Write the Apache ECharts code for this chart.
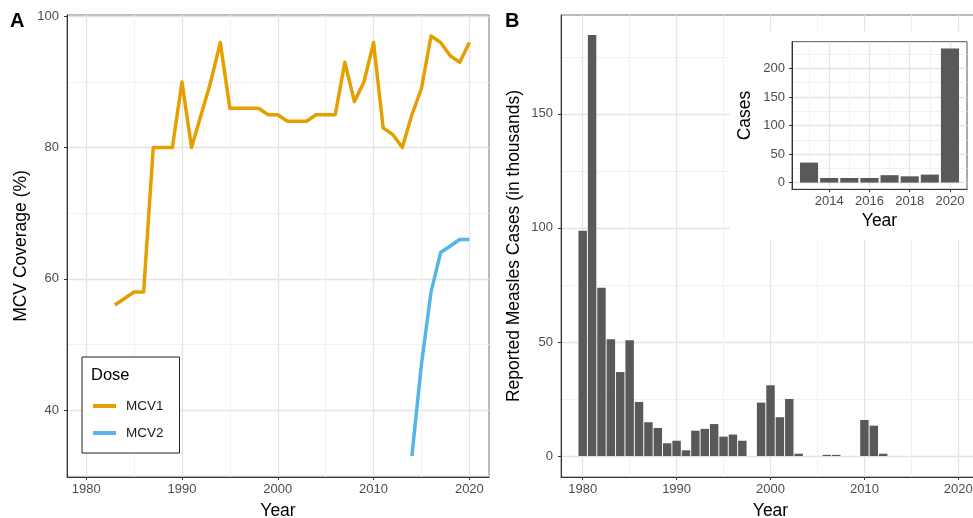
<!DOCTYPE html>
<html><head><meta charset="utf-8">
<script src="https://cdn.jsdelivr.net/npm/echarts@6/dist/echarts.min.js"></script>
<style>html,body{margin:0;padding:0;background:#fff}#c{width:973px;height:518px}</style>
</head><body><div id="c"></div>
<script>
// ---------- data ----------
const mcv1Years = [1983,1984,1985,1986,1987,1988,1989,1990,1991,1992,1993,1994,1995,1996,1997,1998,1999,2000,2001,2002,2003,2004,2005,2006,2007,2008,2009,2010,2011,2012,2013,2014,2015,2016,2017,2018,2019,2020];
const mcv1Values = [56,57,58,58,80,80,80,90,80,85,90,96,86,86,86,86,85,85,84,84,84,85,85,85,93,87,90,96,83,82,80,85,89,97,96,94,93,96];
const mcv2Years = [2014,2015,2016,2017,2018,2019,2020];
const mcv2Values = [33,47,58,64,65,66,66];

const caseYears = [1980,1981,1982,1983,1984,1985,1986,1987,1988,1989,1990,1991,1992,1993,1994,1995,1996,1997,1999,2000,2001,2002,2003,2006,2007,2010,2011,2012];
const caseThousands = [98.7,184.5,73.7,51.2,36.8,50.7,23.7,14.8,12.3,5.6,6.7,2.5,11.1,11.9,14.0,8.5,9.4,6.7,23.4,31.0,17.0,25.0,1.0,0.5,0.5,15.8,13.3,1.0];

const insetYears = [2013,2014,2015,2016,2017,2018,2019,2020];
const insetCases = [35,8,8,8,13,11,14,235];

// tick labels / grid breaks
const yearTicks = [1980,1990,2000,2010,2020];
const yearMinor = [1985,1995,2005,2015];
const covTicks = [40,60,80,100];
const covMinor = [30,50,70,90];
const caseTicks = [0,50,100,150];
const caseMinor = [25,75,125,175];
const insetXTicks = [2014,2016,2018,2020];
const insetXMinor = [2013,2015,2017,2019];
const insetYTicks = [0,50,100,150,200];
const insetYMinor = [25,75,125,175,225];

// ---------- styling ----------
const FONT = 'Liberation Sans, Arial, Helvetica, sans-serif';
const TICKC = '#4d4d4d';
const MAJOR = '#e4e4e4';
const MINORC = '#f1f1f1';
const TITLE_SIZE = 17.5;

function lbl(ticks, margin) {
  return {show: true, customValues: ticks, color: TICKC, fontSize: 13, fontFamily: FONT, margin: margin,
          formatter: function (v) { return String(v); }};
}
function valAxis(gridIndex, min, max, ticks, extra) {
  return Object.assign({
    type: 'value', gridIndex: gridIndex, min: min, max: max,
    axisLine: {show: true, onZero: false, lineStyle: {color: '#333', width: 1}},
    axisTick: {show: true, length: 3, customValues: ticks, lineStyle: {color: '#333'}},
    axisLabel: lbl(ticks, 6),
    splitLine: {show: true, lineStyle: {color: MAJOR, width: 1.3}},
    nameLocation: 'middle',
    nameTextStyle: {color: '#000', fontSize: TITLE_SIZE, fontFamily: FONT}
  }, extra || {});
}
function minorAxis(gridIndex, min, max, ticks, position, extra) {
  return Object.assign({
    type: 'value', gridIndex: gridIndex, min: min, max: max, position: position,
    axisLine: {show: false, onZero: false},
    axisTick: {show: false, customValues: ticks},
    axisLabel: {show: false, customValues: ticks},
    splitLine: {show: true, lineStyle: {color: MINORC, width: 1}}
  }, extra || {});
}

const A_X = [1978.0, 2022.05], A_Y = [29.8, 100.2];
const B_X = [1977.69, 2022.31], B_Y = [-9.2, 193.3];
const I_X = [2012.155, 2020.845], I_Y = [-11.75, 246.75];

const option = {
  animation: false,
  backgroundColor: '#fff',
  grid: [
    {left: 67, top: 15, width: 422, height: 462, show: true, borderColor: '#777', borderWidth: 1, backgroundColor: '#fff', outerBoundsMode: 'none', containLabel: false},
    {left: 561, top: 15, width: 419, height: 462, show: true, borderColor: '#777', borderWidth: 1, backgroundColor: '#fff', outerBoundsMode: 'none', containLabel: false},
    {left: 792, top: 41.7, width: 175, height: 147.6, show: true, borderColor: '#555', borderWidth: 1, backgroundColor: '#fff', z: 6, outerBoundsMode: 'none', containLabel: false}
  ],
  xAxis: [
    valAxis(0, A_X[0], A_X[1], yearTicks, {position: 'bottom', name: 'Year', nameGap: 25}),
    minorAxis(0, A_X[0], A_X[1], yearMinor, 'top'),
    valAxis(1, B_X[0], B_X[1], yearTicks, {position: 'bottom', name: 'Year', nameGap: 25}),
    minorAxis(1, B_X[0], B_X[1], yearMinor, 'top'),
    valAxis(2, I_X[0], I_X[1], insetXTicks, {position: 'bottom', name: 'Year', nameGap: 23, z: 7}),
    minorAxis(2, I_X[0], I_X[1], insetXMinor, 'top', {z: 7})
  ],
  yAxis: [
    valAxis(0, A_Y[0], A_Y[1], covTicks, {position: 'left', name: 'MCV Coverage (%)', nameGap: 37, axisLabel: lbl(covTicks, 8)}),
    minorAxis(0, A_Y[0], A_Y[1], covMinor, 'right'),
    valAxis(1, B_Y[0], B_Y[1], caseTicks, {position: 'left', name: 'Reported Measles Cases (in thousands)', nameGap: 38, axisLabel: lbl(caseTicks, 8)}),
    minorAxis(1, B_Y[0], B_Y[1], caseMinor, 'right'),
    valAxis(2, I_Y[0], I_Y[1], insetYTicks, {position: 'left', name: 'Cases', nameGap: 38, z: 7, axisLabel: lbl(insetYTicks, 7)}),
    minorAxis(2, I_Y[0], I_Y[1], insetYMinor, 'right', {z: 7})
  ],
  legend: {
    left: 82, top: 357, orient: 'vertical',
    padding: [42, 16, 13, 11], itemGap: 13,
    itemWidth: 23, itemHeight: 4, icon: 'rect',
    borderColor: '#222', borderWidth: 1, backgroundColor: '#fff',
    textStyle: {fontSize: 13.5, fontFamily: FONT, color: '#1a1a1a', padding: [0, 0, 0, 5]},
    data: ['MCV1', 'MCV2']
  },
  graphic: [
    {type: 'rect', z: 5, shape: {x: 730, y: 31.5, width: 260, height: 208.5}, style: {fill: '#fff'}, silent: true},
    {type: 'text', z: 20, left: 91, top: 367, style: {text: 'Dose', font: '16.5px ' + FONT, fill: '#000'}},
    {type: 'text', z: 20, left: 10, top: 11, style: {text: 'A', font: 'bold 20px ' + FONT, fill: '#000'}},
    {type: 'text', z: 20, left: 505, top: 11, style: {text: 'B', font: 'bold 20px ' + FONT, fill: '#000'}}
  ],
  series: [
    {name: 'MCV1', type: 'line', xAxisIndex: 0, yAxisIndex: 0, symbol: 'none', color: '#E69F00',
     lineStyle: {width: 3.5, color: '#E69F00', join: 'round'}, data: mcv1Years.map((y, i) => [y, mcv1Values[i]])},
    {name: 'MCV2', type: 'line', xAxisIndex: 0, yAxisIndex: 0, symbol: 'none', color: '#56B4E9',
     lineStyle: {width: 3.5, color: '#56B4E9', join: 'round'}, data: mcv2Years.map((y, i) => [y, mcv2Values[i]])},
    {name: 'cases', type: 'bar', xAxisIndex: 2, yAxisIndex: 2, barWidth: 8.45, itemStyle: {color: '#595959'},
     data: caseYears.map((y, i) => [y, caseThousands[i]])},
    {name: 'inset', type: 'bar', xAxisIndex: 4, yAxisIndex: 4, barWidth: 18.1, z: 8, itemStyle: {color: '#595959'},
     data: insetYears.map((y, i) => [y, insetCases[i]])}
  ]
};
const chart = echarts.init(document.getElementById('c'), null, {renderer: 'canvas'});
chart.setOption(option);
</script></body></html>
